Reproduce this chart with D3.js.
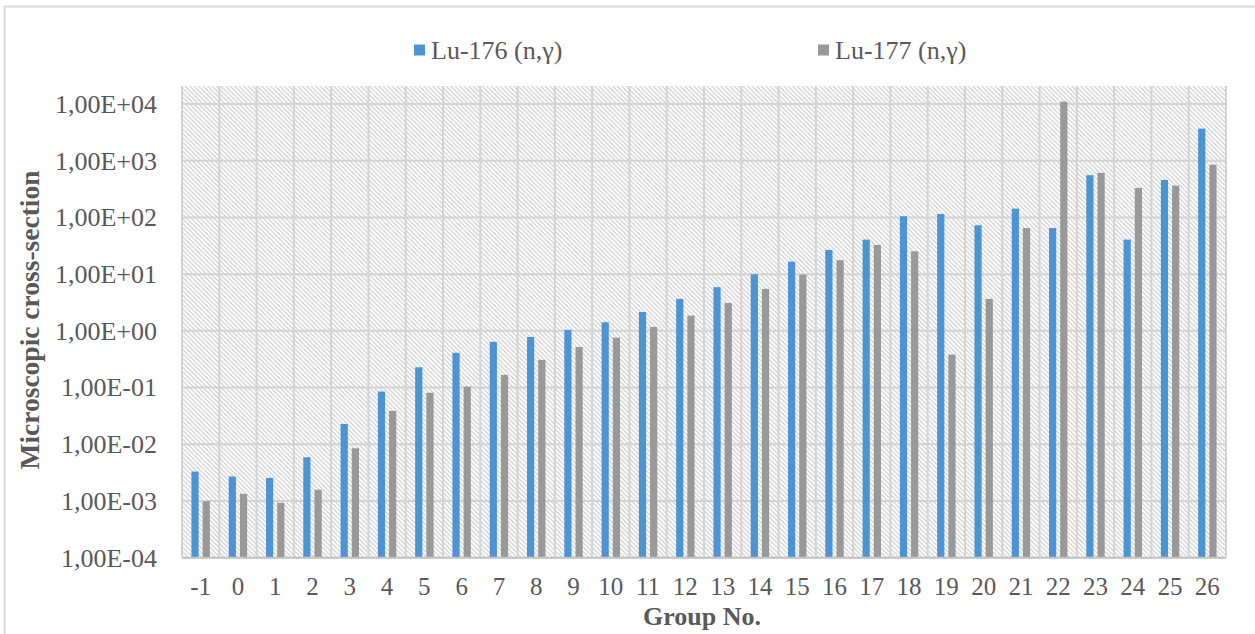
<!DOCTYPE html>
<html>
<head>
<meta charset="utf-8">
<script src="https://cdn.jsdelivr.net/npm/d3@7"></script>
<style>
  html, body { margin: 0; padding: 0; background: #ffffff; }
  svg { display: block; }
</style>
</head>
<body>
<svg id="chart" width="1255" height="634"></svg>
<script>
// Energy groups
const groups = ["-1","0","1","2","3","4","5","6","7","8","9","10","11","12","13",
                "14","15","16","17","18","19","20","21","22","23","24","25","26"];

// Series names
const seriesNames = ["Lu-176 (n,\u03b3)", "Lu-177 (n,\u03b3)"];

// Microscopic cross-sections per group
const lu176 = [3.3e-3, 2.7e-3, 2.55e-3, 5.9e-3, 2.28e-2, 8.5e-2, 0.228, 0.41, 0.64, 0.78,
               1.04, 1.42, 2.15, 3.66, 5.9, 9.96, 16.6, 26.7, 40.6, 105,
               115, 72.8, 143, 65, 555, 40.6, 458, 3680];
const lu177 = [9.9e-4, 1.34e-3, 9.3e-4, 1.58e-3, 8.5e-3, 3.87e-2, 0.081, 0.104, 0.167, 0.307,
               0.52, 0.76, 1.17, 1.85, 3.1, 5.5, 9.8, 17.6, 32.7, 25.3,
               0.38, 3.66, 65, 11000, 610, 331, 364, 853];

// Log axis ticks
const yTicks = [1e-4, 1e-3, 1e-2, 1e-1, 1e0, 1e1, 1e2, 1e3, 1e4];

const colors = ["#4d94d5", "#999999"];
const FONT = '"Liberation Serif"';
const TEXT = "#595959";

const svg = d3.select("#chart");
const W = 1255, H = 634;
const plot = { left: 182, right: 1226, top: 86, bottom: 557.7 };

svg.append("rect").attr("width", W).attr("height", H).attr("fill", "#ffffff");

// Outer chart border
svg.append("rect")
  .attr("x", 4.5).attr("y", 6.5)
  .attr("width", W + 20).attr("height", H + 20)
  .attr("fill", "none").attr("stroke", "#d9d9d9").attr("stroke-width", 2);

// Diagonal hatch for the plot area
const defs = svg.append("defs");
const pat = defs.append("pattern")
  .attr("id", "hatch").attr("patternUnits", "userSpaceOnUse")
  .attr("width", 4.5).attr("height", 4.5);
pat.append("path")
  .attr("d", "M-1,-1 L5.5,5.5 M-1,3.5 L1,5.5 M3.5,-1 L5.5,1")
  .attr("stroke", "#c6c6c6").attr("stroke-width", 1.1).attr("fill", "none");

svg.append("rect")
  .attr("x", plot.left).attr("y", plot.top)
  .attr("width", plot.right - plot.left).attr("height", plot.bottom - plot.top)
  .attr("fill", "url(#hatch)");

// Scales
const x0 = d3.scaleBand().domain(groups).range([plot.left, plot.right]).padding(0);
const bw = x0.bandwidth();
const x1 = d3.scaleBand().domain([0, 1])
  .range([bw / 2 - 9.2, bw / 2 + 9.2]).paddingInner(0.357).paddingOuter(0);
const y = d3.scaleLog().domain([1e-4, 1e4]).range([plot.bottom, 104]);

// Gridlines
const grid = svg.append("g").attr("stroke", "#d3d3d3").attr("stroke-width", 2);
grid.selectAll("line.h").data(yTicks).join("line")
  .attr("class", "h")
  .attr("x1", plot.left).attr("x2", plot.right)
  .attr("y1", d => y(d)).attr("y2", d => y(d));
const vEdges = groups.map(g => x0(g)).concat([plot.right]);
grid.selectAll("line.v").data(vEdges).join("line")
  .attr("class", "v")
  .attr("x1", d => d).attr("x2", d => d)
  .attr("y1", plot.top).attr("y2", plot.bottom);

// Bars
const series = [lu176, lu177];
series.forEach((vals, si) => {
  svg.append("g").selectAll("rect").data(vals).join("rect")
    .attr("x", (d, i) => x0(groups[i]) + x1(si))
    .attr("width", x1.bandwidth())
    .attr("y", d => y(d))
    .attr("height", d => plot.bottom - y(d))
    .attr("fill", colors[si]);
});

// Bottom axis line
svg.append("line")
  .attr("x1", plot.left).attr("x2", plot.right)
  .attr("y1", plot.bottom).attr("y2", plot.bottom)
  .attr("stroke", "#c4c4c4").attr("stroke-width", 2);

// Y axis labels
const fmt = d => {
  const e = Math.round(Math.log10(d));
  const s = e < 0 ? "-" : "+";
  return "1,00E" + s + String(Math.abs(e)).padStart(2, "0");
};
const yAxis = svg.append("g")
  .attr("transform", `translate(${plot.left},0)`)
  .call(d3.axisLeft(y).tickValues(yTicks).tickFormat(fmt).tickSize(0).tickPadding(25));
yAxis.select(".domain").remove();
yAxis.selectAll("text")
  .style("font-family", FONT).style("font-size", "26px").attr("fill", TEXT);

// X axis labels
const xAxis = svg.append("g")
  .attr("transform", `translate(0,${plot.bottom})`)
  .call(d3.axisBottom(x0).tickSize(0).tickPadding(20));
xAxis.select(".domain").remove();
xAxis.selectAll("text")
  .style("font-family", FONT).style("font-size", "25px").attr("fill", TEXT);

// Axis titles
svg.append("text")
  .attr("transform", "translate(39,320) rotate(-90)")
  .attr("text-anchor", "middle")
  .style("font-family", FONT).style("font-size", "27.5px").style("font-weight", "bold")
  .attr("fill", TEXT)
  .text("Microscopic cross-section");

svg.append("text")
  .attr("x", 702).attr("y", 625)
  .attr("text-anchor", "middle")
  .style("font-family", FONT).style("font-size", "26px").style("font-weight", "bold")
  .attr("fill", TEXT)
  .text("Group No.");

// Legend
const legendX = [414, 818];
const legend = svg.append("g");
seriesNames.forEach((name, i) => {
  const g = legend.append("g").attr("transform", `translate(${legendX[i]},50)`);
  g.append("rect").attr("x", 0).attr("y", -5.5).attr("width", 11).attr("height", 11)
    .attr("fill", colors[i]);
  g.append("text").attr("x", 17).attr("y", 9)
    .style("font-family", FONT).style("font-size", "26px")
    .attr("fill", TEXT)
    .text(name);
});
</script>
</body>
</html>
